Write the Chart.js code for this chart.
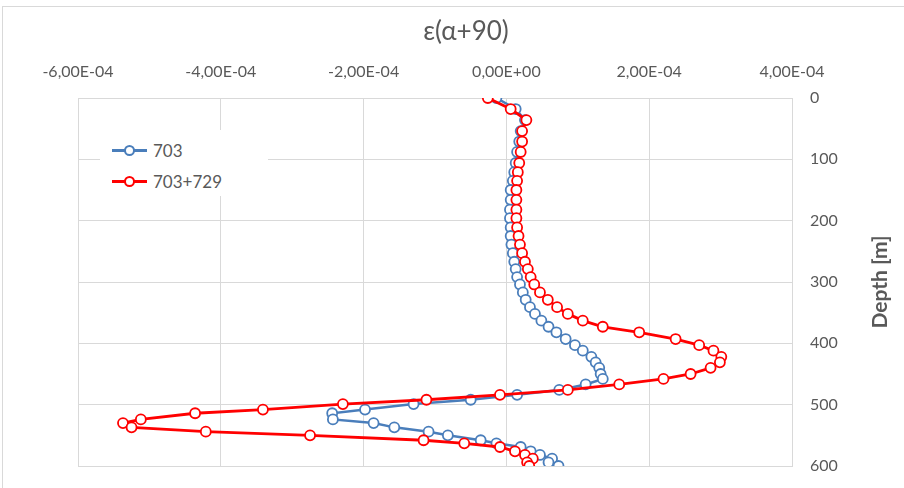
<!DOCTYPE html>
<html>
<head>
<meta charset="utf-8">
<script src="https://cdn.jsdelivr.net/npm/chart.js@4.4.1/dist/chart.umd.min.js"></script>
<style>
    html, body { margin: 0; padding: 0; background: #fff; }
    #wrap { position: relative; width: 904px; height: 488px; overflow: hidden; font-family: Lato, sans-serif; }
    #frame { position: absolute; left: 2px; top: 6px; width: 940px; height: 520px; border: 1px solid #d9d9d9; }
    #chart { position: absolute; left: 0; top: 0; }
    #legend { position: absolute; left: 100px; top: 130px; width: 168px; height: 66px; background: #fff; }
    .item { position: absolute; left: 12px; height: 20px; display: flex; align-items: center; font-size: 17px; color: #595959; }
    .mark { position: relative; width: 35px; height: 20px; margin-right: 6px; }
    .mark .ln { position: absolute; left: 0; right: 0; top: 9px; height: 2.5px; }
    .mark .pt { position: absolute; left: 12px; top: 5px; width: 7px; height: 7px; border-radius: 50%; background: #fff; border: 2px solid; }
</style>
</head>
<body>
<div id="wrap">
    <div id="frame"></div>
    <canvas id="chart" width="904" height="488"></canvas>
    <div id="legend">
        <div class="item" style="top:10px"><span class="mark"><span class="ln" style="background:#4a7ebb"></span><span class="pt" style="border-color:#4a7ebb"></span></span>703</div>
        <div class="item" style="top:41px"><span class="mark"><span class="ln" style="background:#ff0000"></span><span class="pt" style="border-color:#ff0000"></span></span>703+729</div>
    </div>
</div>
<script>
// depth [m], shared by both series
const depth = [0, 18, 36, 54, 71, 88, 106, 121, 135, 150,
    166, 182, 196, 211, 225, 239, 253, 267, 279, 292,
    304, 317, 329, 341, 352, 363, 373, 382, 393, 403,
    412, 422, 431, 440, 450, 458, 467, 476, 484, 492,
    499, 508, 514, 524, 530, 537, 544, 550, 558, 563,
    569, 576, 582, 588, 594, 600];

// ε(α+90) for 703
const eps703 = [-0.14e-4, 0.13e-4, 0.26e-4, 0.20e-4, 0.18e-4, 0.15e-4, 0.13e-4, 0.11e-4, 0.09e-4, 0.06e-4,
    0.06e-4, 0.05e-4, 0.05e-4, 0.06e-4, 0.06e-4, 0.07e-4, 0.09e-4, 0.11e-4, 0.13e-4, 0.15e-4,
    0.19e-4, 0.23e-4, 0.27e-4, 0.33e-4, 0.40e-4, 0.49e-4, 0.59e-4, 0.70e-4, 0.83e-4, 0.96e-4,
    1.07e-4, 1.19e-4, 1.25e-4, 1.30e-4, 1.32e-4, 1.35e-4, 1.11e-4, 0.74e-4, 0.15e-4, -0.50e-4,
    -1.30e-4, -1.98e-4, -2.44e-4, -2.43e-4, -1.86e-4, -1.57e-4, -1.09e-4, -0.82e-4, -0.36e-4, -0.14e-4,
    0.20e-4, 0.34e-4, 0.47e-4, 0.64e-4, 0.59e-4, 0.73e-4];

// ε(α+90) for 703+729
const eps703729 = [-0.26e-4, 0.06e-4, 0.28e-4, 0.22e-4, 0.22e-4, 0.20e-4, 0.18e-4, 0.16e-4, 0.15e-4, 0.14e-4,
    0.14e-4, 0.14e-4, 0.14e-4, 0.15e-4, 0.17e-4, 0.19e-4, 0.22e-4, 0.26e-4, 0.30e-4, 0.34e-4,
    0.39e-4, 0.47e-4, 0.58e-4, 0.71e-4, 0.86e-4, 1.07e-4, 1.35e-4, 1.86e-4, 2.37e-4, 2.70e-4,
    2.90e-4, 3.01e-4, 2.99e-4, 2.86e-4, 2.58e-4, 2.20e-4, 1.58e-4, 0.86e-4, -0.09e-4, -1.12e-4,
    -2.29e-4, -3.41e-4, -4.36e-4, -5.12e-4, -5.37e-4, -5.25e-4, -4.21e-4, -2.75e-4, -1.16e-4, -0.59e-4,
    -0.09e-4, 0.12e-4, 0.26e-4, 0.37e-4, 0.29e-4, 0.32e-4];

const xTicks = [-6e-4, -4e-4, -2e-4, 0, 2e-4, 4e-4];
const yTicks = [0, 100, 200, 300, 400, 500, 600];

const TEXT = '#595959';
const GRID = '#d9d9d9';

// Excel style "-6,00E-04"
function sci(v) {
    if (Math.abs(v) < 1e-12) return '0,00E+00';
    const e = Math.floor(Math.log10(Math.abs(v)) + 1e-9);
    const m = (v / Math.pow(10, e)).toFixed(2).replace('.', ',');
    const es = (e < 0 ? '-' : '+') + String(Math.abs(e)).padStart(2, '0');
    return m + 'E' + es;
}

const pairs = (xs) => xs.map((x, i) => ({ x: x, y: depth[i] }));

// title and rotated axis title drawn at fixed spots
const labelsPlugin = {
    id: 'labelsPlugin',
    afterDraw(chart) {
        const { ctx, chartArea } = chart;
        ctx.save();
        ctx.fillStyle = TEXT;
        ctx.textAlign = 'center';
        ctx.textBaseline = 'middle';
        ctx.font = '26px Lato';
        ctx.fillText('ε(α+90)', 466, 32);
        ctx.translate(880, (chartArea.top + chartArea.bottom) / 2);
        ctx.rotate(-Math.PI / 2);
        ctx.font = 'bold 21px Lato';
        ctx.fillText('Depth [m]', 0, 0);
        ctx.restore();
    }
};

new Chart(document.getElementById('chart'), {
    type: 'scatter',
    data: {
        datasets: [
            {
                label: '703',
                data: pairs(eps703),
                showLine: true,
                borderColor: '#4a7ebb',
                borderWidth: 2.5,
                pointRadius: 5,
                pointBorderWidth: 1.8,
                pointBackgroundColor: '#fff',
                pointBorderColor: '#4a7ebb',
                order: 1
            },
            {
                label: '703+729',
                data: pairs(eps703729),
                showLine: true,
                borderColor: '#ff0000',
                borderWidth: 2.8,
                pointRadius: 5,
                pointBorderWidth: 1.8,
                pointBackgroundColor: '#fff',
                pointBorderColor: '#ff0000',
                order: 0
            }
        ]
    },
    options: {
        responsive: false,
        animation: false,
        layout: { padding: { top: 62, left: 78, right: 0, bottom: 22 } },
        plugins: {
            legend: { display: false },
            title: { display: false },
            tooltip: { enabled: false }
        },
        scales: {
            x: {
                type: 'linear',
                position: 'top',
                min: -6e-4,
                max: 4e-4,
                afterBuildTicks: s => { s.ticks = xTicks.map(v => ({ value: v })); },
                afterFit: s => { s.height = 36; },
                ticks: { color: TEXT, font: { family: 'Lato', size: 16 }, padding: 17, maxRotation: 0, callback: v => sci(v) },
                grid: { color: GRID, drawTicks: false },
                border: { display: true, color: GRID }
            },
            y: {
                type: 'linear',
                position: 'right',
                reverse: true,
                min: 0,
                max: 600,
                afterBuildTicks: s => { s.ticks = yTicks.map(v => ({ value: v })); },
                afterFit: s => { s.width = 112; s.paddingTop = 0; s.paddingBottom = 0; },
                ticks: { color: TEXT, font: { family: 'Lato', size: 16 }, padding: 18 },
                grid: { color: GRID, drawTicks: false },
                border: { display: true, color: GRID }
            }
        }
    },
    plugins: [labelsPlugin]
});
</script>
</body>
</html>
